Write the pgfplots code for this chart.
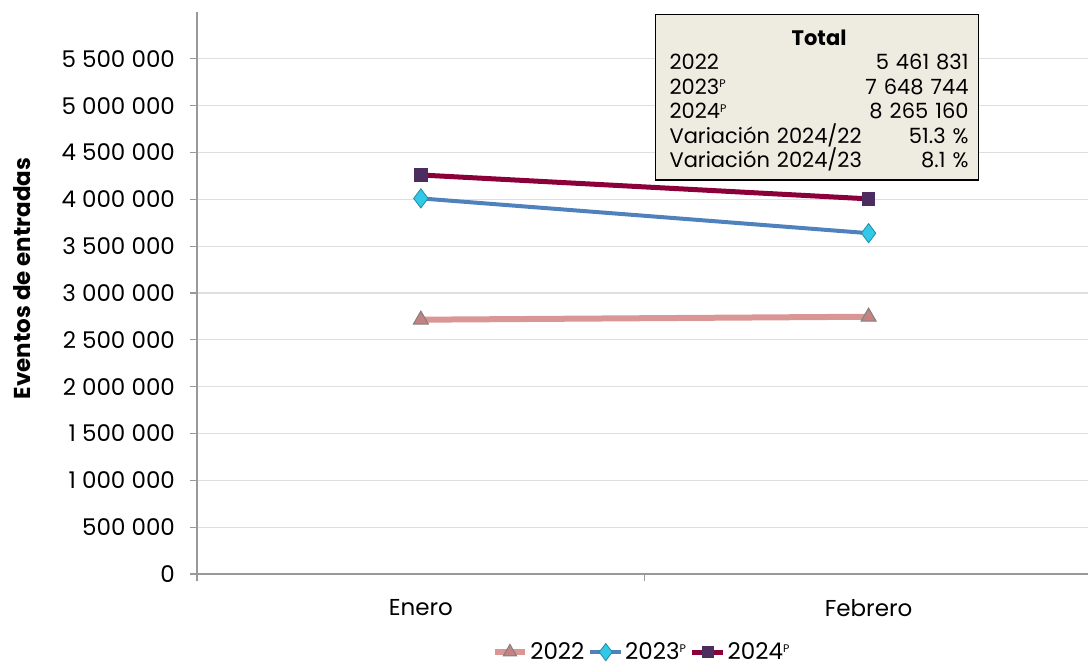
\documentclass[border=0pt]{standalone}
\usepackage{pgfplots}
\pgfplotsset{compat=1.18}
\usepackage{fontspec}
\setmainfont{Poppins}

\definecolor{l22}{RGB}{217,150,148}
\definecolor{m22}{RGB}{196,130,130}
\definecolor{l23}{RGB}{79,129,189}
\definecolor{m23}{RGB}{50,200,232}
\definecolor{l24}{RGB}{139,0,56}
\definecolor{m24}{RGB}{75,45,95}
\definecolor{boxbg}{RGB}{238,236,225}

\newcommand{\supP}{\raisebox{0.55ex}{\fontsize{5.5}{6}\selectfont P}}

\begin{document}
\begin{tikzpicture}
\begin{axis}[
    scale only axis,
    width=445.5pt, height=281pt,
    at={(0,0)}, anchor=south west,
    xmin=0, xmax=1.99,
    ymin=0, ymax=6000000,
    scaled y ticks=false,
    axis lines=left,
    axis line style={-, draw=gray!80, line width=0.8pt},
    ytick={0,500000,1000000,1500000,2000000,2500000,3000000,3500000,4000000,4500000,5000000,5500000},
    yticklabels={0,500 000,1 000 000,1 500 000,2 000 000,2 500 000,3 000 000,3 500 000,4 000 000,4 500 000,5 000 000,5 500 000},
    ymajorgrids,
    grid style={gray!25, line width=0.6pt},
    tick align=outside,
    major tick length=3.5pt,
    tick style={draw=gray!80, line width=0.6pt},
    xtick={0,1},
    xticklabels={,},
    tick label style={font=\fontsize{11.5}{13}\selectfont},
    yticklabel style={xshift=-4pt},
    ylabel={\textbf{Eventos de entradas}},
    every axis y label/.style={at={(axis description cs:-0.1964,0.526)}, rotate=90, anchor=center, font=\fontsize{11.5}{13}\selectfont},
    legend style={draw=none, fill=none, at={(axis description cs:0.5,-0.139)}, anchor=center,
      font=\fontsize{11.5}{13}\selectfont, inner xsep=1pt, inner ysep=0pt,
      /tikz/every odd column/.append style={column sep=-1pt}},
    legend image post style={scale=0.9},
    legend columns=3,
    clip=false,
]
\addplot[color=l22, line width=3pt, mark=triangle*, mark size=4.3pt,
  mark options={fill=m22, draw=gray, line width=0.5pt}]
  coordinates {(0.5,2715000) (1.5,2746831)};
\addlegendentry{2022}
\addplot[color=l23, line width=2pt, mark=diamond*, mark size=4.8pt,
  mark options={fill=m23, draw=m23!70!black, line width=0.4pt}]
  coordinates {(0.5,4010000) (1.5,3638744)};
\addlegendentry{2023\supP}
\addplot[color=l24, line width=2.5pt, mark=square*, mark size=3.1pt,
  mark options={fill=m24, draw=m24, line width=0.4pt}]
  coordinates {(0.5,4260000) (1.5,4005160)};
\addlegendentry{2024\supP}

\node[font=\fontsize{11.5}{13}\selectfont] at (axis cs:0.5,0) [yshift=-17pt] {Enero};
\node[font=\fontsize{11.5}{13}\selectfont] at (axis cs:1.5,0) [yshift=-17pt] {Febrero};

\node[draw=black, fill=boxbg, line width=0.6pt, anchor=north west,
  inner xsep=0pt, inner ysep=7.5pt, text width=161.5pt, align=left,
  font=\fontsize{10.5}{12.2}\selectfont]
  at (rel axis cs:0.514,0.996) {%
  \hspace*{7pt}\hfill\textbf{Total}\hfill\hspace*{5pt}\null\\
  \hspace*{7pt}2022\hfill 5 461 831\hspace*{5pt}\null\\
  \hspace*{7pt}2023\supP\hfill 7 648 744\hspace*{5pt}\null\\
  \hspace*{7pt}2024\supP\hfill 8 265 160\hspace*{5pt}\null\\
  \hspace*{7pt}Variación 2024/22\hfill 51.3 \%\hspace*{5pt}\null\\
  \hspace*{7pt}Variación 2024/23\hfill 8.1 \%\hspace*{5pt}\null\vspace*{-3pt}};
\end{axis}
\pgfresetboundingbox
\useasboundingbox (-98.5pt,-46pt) rectangle (446pt,287pt);
\end{tikzpicture}
\end{document}
